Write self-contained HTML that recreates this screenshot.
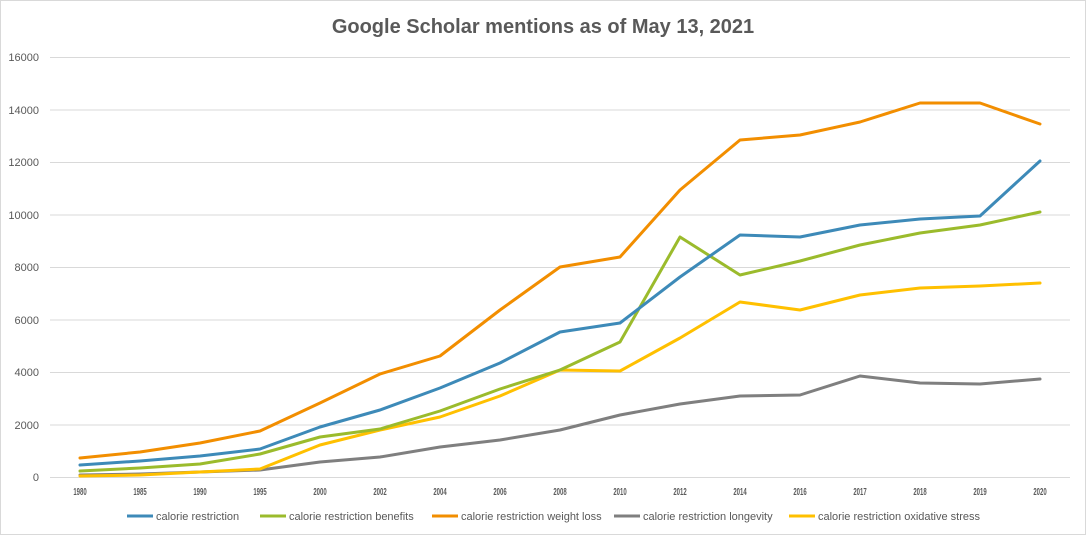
<!DOCTYPE html>
<html><head><style>
body{margin:0;background:#fff;}
svg{display:block;font-family:"Liberation Sans",sans-serif;}
</style></head><body>
<svg width="1086" height="535" viewBox="0 0 1086 535">
<rect x="0.5" y="0.5" width="1085" height="534" fill="#fff" stroke="#d9d9d9"/>
<text x="543" y="33" text-anchor="middle" font-size="20" font-weight="bold" fill="#595959">Google Scholar mentions as of May 13, 2021</text>
<g stroke="#d9d9d9" stroke-width="1">
<line x1="50" x2="1070" y1="57.5" y2="57.5"/><line x1="50" x2="1070" y1="110" y2="110"/>
<line x1="50" x2="1070" y1="162.5" y2="162.5"/><line x1="50" x2="1070" y1="215" y2="215"/>
<line x1="50" x2="1070" y1="267.5" y2="267.5"/><line x1="50" x2="1070" y1="320" y2="320"/>
<line x1="50" x2="1070" y1="372.5" y2="372.5"/><line x1="50" x2="1070" y1="425" y2="425"/>
<line x1="50" x2="1070" y1="477.5" y2="477.5"/>
</g>
<g font-size="11" fill="#595959" text-anchor="end">
<text x="39" y="61">16000</text><text x="39" y="114">14000</text><text x="39" y="166">12000</text>
<text x="39" y="219">10000</text><text x="39" y="271">8000</text><text x="39" y="324">6000</text>
<text x="39" y="376">4000</text><text x="39" y="429">2000</text><text x="39" y="481">0</text>
</g>
<g font-size="10" font-weight="bold" fill="#595959" text-anchor="middle">
<g transform="translate(80,495) scale(0.6,1)"><text>1980</text></g>
<g transform="translate(140,495) scale(0.6,1)"><text>1985</text></g>
<g transform="translate(200,495) scale(0.6,1)"><text>1990</text></g>
<g transform="translate(260,495) scale(0.6,1)"><text>1995</text></g>
<g transform="translate(320,495) scale(0.6,1)"><text>2000</text></g>
<g transform="translate(380,495) scale(0.6,1)"><text>2002</text></g>
<g transform="translate(440,495) scale(0.6,1)"><text>2004</text></g>
<g transform="translate(500,495) scale(0.6,1)"><text>2006</text></g>
<g transform="translate(560,495) scale(0.6,1)"><text>2008</text></g>
<g transform="translate(620,495) scale(0.6,1)"><text>2010</text></g>
<g transform="translate(680,495) scale(0.6,1)"><text>2012</text></g>
<g transform="translate(740,495) scale(0.6,1)"><text>2014</text></g>
<g transform="translate(800,495) scale(0.6,1)"><text>2016</text></g>
<g transform="translate(860,495) scale(0.6,1)"><text>2017</text></g>
<g transform="translate(920,495) scale(0.6,1)"><text>2018</text></g>
<g transform="translate(980,495) scale(0.6,1)"><text>2019</text></g>
<g transform="translate(1040,495) scale(0.6,1)"><text>2020</text></g>
</g>
<g fill="none" stroke-width="3" stroke-linejoin="round" stroke-linecap="round">
<polyline stroke="#7f7f7f" points="80,475 140,474 200,472 260,470 320,462 380,457 440,447 500,440 560,430 620,415 680,404 740,396 800,395 860,376 920,383 980,384 1040,379"/>
<polyline stroke="#ffc000" points="80,476 140,475 200,472 260,469 320,445 380,430 440,417 500,396 560,370 620,371 680,338 740,302 800,310 860,295 920,288 980,286 1040,283"/>
<polyline stroke="#9bbb2c" points="80,471 140,468 200,464 260,454 320,437 380,429 440,411 500,389 560,370 620,342 680,237 740,275 800,261 860,245 920,233 980,225 1040,212"/>
<polyline stroke="#3d8ab8" points="80,465 140,461 200,456 260,449 320,427 380,410 440,388 500,363 560,332 620,323 680,277 740,235 800,237 860,225 920,219 980,216 1040,161"/>
<polyline stroke="#f28e00" points="80,458 140,452 200,443 260,431 320,403 380,374 440,356 500,310 560,267 620,257 680,190 740,140 800,135 860,122 920,103 980,103 1040,124"/>
</g>
<g font-size="11" fill="#595959" stroke-width="3">
<line x1="127" x2="153" y1="516" y2="516" stroke="#3d8ab8"/><text x="156" y="520">calorie restriction</text>
<line x1="260" x2="286" y1="516" y2="516" stroke="#9bbb2c"/><text x="289" y="520">calorie restriction benefits</text>
<line x1="432" x2="458" y1="516" y2="516" stroke="#f28e00"/><text x="461" y="520">calorie restriction weight loss</text>
<line x1="614" x2="640" y1="516" y2="516" stroke="#7f7f7f"/><text x="643" y="520">calorie restriction longevity</text>
<line x1="789" x2="815" y1="516" y2="516" stroke="#ffc000"/><text x="818" y="520">calorie restriction oxidative stress</text>
</g>
</svg>
</body></html>
